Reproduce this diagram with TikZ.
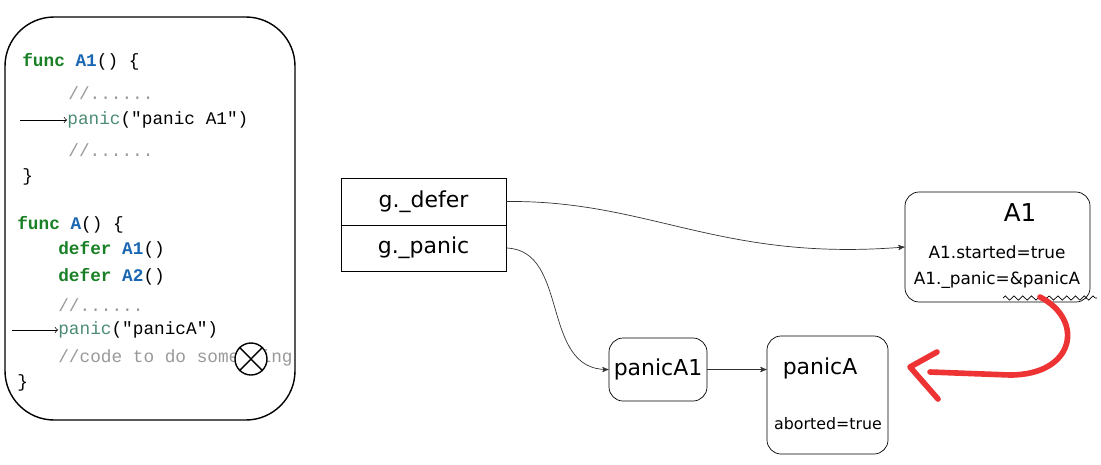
\documentclass[tikz,border=0pt]{standalone}
\usepackage{fontspec}
\setmainfont{DejaVu Sans}
\newfontfamily\codefont{Liberation Mono}
\usetikzlibrary{arrows,decorations.pathmorphing}
\definecolor{kwgreen}{rgb}{0.1,0.5,0.15}
\definecolor{fnblue}{rgb}{0.1,0.4,0.7}
\definecolor{cmtgray}{rgb}{0.6,0.6,0.6}
\definecolor{strgreen}{rgb}{0.3,0.55,0.45}
\definecolor{penred}{rgb}{0.93,0.2,0.2}

\begin{document}
\begin{tikzpicture}[x=0.02cm,y=-0.02cm,
  code/.style={anchor=west,inner sep=0pt,font=\codefont\fontsize{10.1}{12}\selectfont},
  box/.style={draw,thin,rounded corners=8pt,inner sep=0pt},
  hand/.style={font=\fontsize{12.5}{14}\selectfont},
  small/.style={font=\fontsize{9.6}{11}\selectfont},
  link/.style={->,>=stealth',thin,gray!40!black}]
\useasboundingbox (0,0) rectangle (1101,464);
% code card
\draw[thick,rounded corners=28pt] (5,17) rectangle (295,420);
\node[code] (l1) at (22,62) {\textcolor{kwgreen}{\textbf{func}} \textcolor{fnblue}{\textbf{A1}}() \{};
\node[code,cmtgray] (l2) at (68,93) {//......};
\node[code] (l3) at (67,120) {\textcolor{strgreen}{panic}("panic A1")};
\node[code,cmtgray] (l4) at (68,150) {//......};
\node[code] (l5) at (22,177) {\}};
\node[code] (l6) at (17,225) {\textcolor{kwgreen}{\textbf{func}} \textcolor{fnblue}{\textbf{A}}() \{};
\node[code] (l7) at (58,250) {\textcolor{kwgreen}{\textbf{defer}} \textcolor{fnblue}{\textbf{A1}}()};
\node[code] (l8) at (58,277) {\textcolor{kwgreen}{\textbf{defer}} \textcolor{fnblue}{\textbf{A2}}()};
\node[code,cmtgray] (l9) at (58,305) {//......};
\node[code] (l10) at (58,330) {\textcolor{strgreen}{panic}("panicA")};
\node[code,cmtgray] (l11) at (58,358) {//code to do something};
\node[code] (l12) at (17,383) {\}};
\coordinate (p1) at (20,120);
\coordinate (p2) at (12,330);
\draw[->,>=to,thin] (p1) -- (l3.west);
\draw[->,>=to,thin] (p2) -- (l10.west);
\node[draw,thick,circle,fill=white,minimum size=32*0.02cm,inner sep=0pt] (stop) at (251,359) {};
\draw[thick] (stop.north west) ++(0.12,-0.12) -- ([shift={(-0.12,0.12)}]stop.south east);
\draw[thick] (stop.north east) ++(-0.12,-0.12) -- ([shift={(0.12,0.12)}]stop.south west);
% goroutine fields
\node[draw,thin,minimum width=165*0.02cm,minimum height=47*0.02cm,hand] (defer) at (423.5,201.5) {g.\_defer};
\node[draw,thin,minimum width=165*0.02cm,minimum height=46*0.02cm,hand] (panic) at (423.5,248) {g.\_panic};
% defer record
\node[box,minimum width=185*0.02cm,minimum height=110*0.02cm] (a1) at (997.5,247) {};
\node[font=\fontsize{14}{16}\selectfont] (a1t) at (1020,213) {A1};
\node[small] (a1s) at (997,252) {A1.started=true};
\node[small] (a1p) at (997,280) {A1.\_panic=\&panicA};
% panic records
\node[box,minimum width=98*0.02cm,minimum height=63*0.02cm,hand] (pa1) at (658,369.5) {panicA1};
\node[box,minimum width=121*0.02cm,minimum height=118*0.02cm] (pa) at (827.5,395) {};
\node[hand] (pat) at (820,368) {panicA};
\node[font=\fontsize{9}{11}\selectfont] (pab) at (828,424) {aborted=true};
% links
\draw[link] (defer.east) .. controls (650,200) and (720,262) .. (a1.west);
\draw[link] (panic.east) .. controls (570,250) and (540,370) .. (pa1.west);
\draw[link] (pa1.east) -- (pa.west |- pa1.east);
\coordinate (z1) at (1003,298);
\coordinate (z2) at (1097,298);
\draw[thin,decorate,decoration={zigzag,amplitude=1.2pt,segment length=5pt}] (z1) -- (z2);
\coordinate (r1) at (1040,297);
\coordinate (r2) at (930,372);
\draw[penred,line width=3.2pt,line cap=round] (r1) .. controls (1085,320) and (1075,375) .. (1010,375) -- (r2);
\draw[penred,line width=3.2pt,line cap=round,line join=round] (937,352) -- (910,367) -- (938,399);
\end{tikzpicture}
\end{document}
